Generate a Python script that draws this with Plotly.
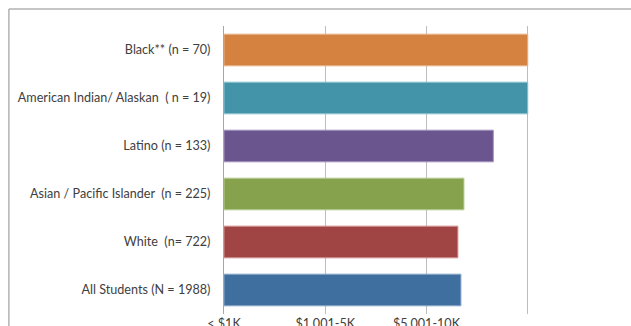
import plotly.graph_objects as go

categories = ["Black** (n = 70)", "American Indian/ Alaskan  ( n = 19)", "Latino (n = 133)",
              "Asian / Pacific Islander  (n = 225)", "White  (n= 722)", "All Students (N = 1988)"]
values = [3.0, 3.0, 2.66, 2.37, 2.31, 2.34]
colors = ["#D5813F", "#4394A9", "#6B558E", "#87A24D", "#A04544", "#3E6F9F"]
edge_colors = ["#E8B58C", "#8EC3D1", "#A494BE", "#B7CC93", "#D08F8E", "#8AA9CB"]
tick_vals = [0, 1, 2, 3, 4]
tick_text = ["< $1K", "$1,001-5K", "$5,001-10K", "", ""]

W, H = 631, 326
L, R, T, B = 223.5, 1.7, 26, 12

fig = go.Figure(go.Bar(
    x=values, y=categories, orientation="h",
    marker=dict(color=colors, line=dict(color=edge_colors, width=1)),
    width=0.66,
))

pw = W - L - R
ph = H - T - B
fig.add_shape(type="rect", xref="paper", yref="paper",
              x0=(8 - L) / pw, x1=(W + 20 - L) / pw,
              y0=-0.3, y1=1 + (T - 9) / ph,
              line=dict(color="#8C8C8C", width=1), fillcolor="rgba(0,0,0,0)", layer="below")

fig.update_layout(
    width=W, height=H,
    margin=dict(l=L, r=R, t=T, b=B, pad=0),
    paper_bgcolor="white", plot_bgcolor="white",
    showlegend=False,
    font=dict(family="Lato", size=12.6, color="#404040"),
    xaxis=dict(range=[0, 4], tickvals=tick_vals, ticktext=tick_text,
               showgrid=True, gridcolor="#BDBDBD", gridwidth=1,
               showline=False, ticks="",
               zeroline=False, automargin=False,
               tickfont=dict(family="Lato", size=12.6, color="#404040")),
    yaxis=dict(autorange="reversed", showline=True, linecolor="#A6A6A6", linewidth=1,
               ticks="", showgrid=False, automargin=False, ticklabelstandoff=10,
               tickfont=dict(family="Lato", size=12.6, color="#404040")),
)

fig.write_html("out.html")
